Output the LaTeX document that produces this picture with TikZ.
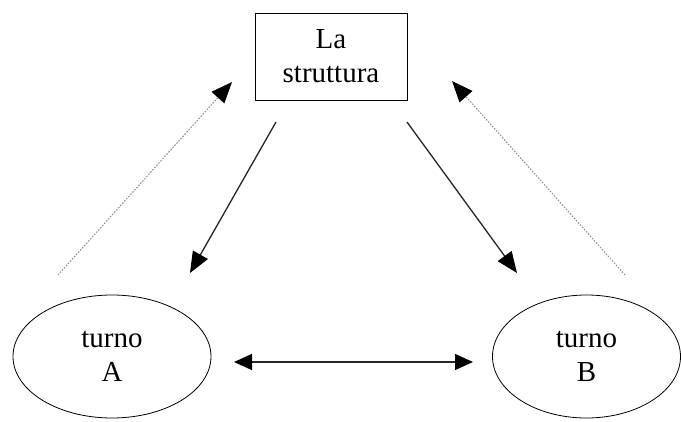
\documentclass[tikz,border=0pt]{standalone}
\usepackage{fontspec}
\setmainfont{Liberation Serif}
\usetikzlibrary{shapes.geometric,arrows.meta}

\begin{document}
\begin{tikzpicture}[x=1pt, y=-1pt, font=\fontsize{29}{34}\selectfont]
			\tikzstyle{turno}=[ellipse,draw,thick,align=center,inner sep=0pt]
			\tikzstyle{freccia}=[draw=black!85,line width=1.3pt,-{Triangle[length=21pt,width=17pt,color=black]}]
			\tikzstyle{ritorno}=[draw=black!45,line width=1pt,dash pattern=on 1.6pt off 1.4pt,-{Triangle[length=21pt,width=17pt,color=black]}]
			\useasboundingbox (0,0) rectangle (681,421);
			\node[draw,thick,align=center,minimum width=152pt,minimum height=87pt](struttura) at (331,56.5){La\\struttura};
			\node[turno,minimum width=198pt,minimum height=123pt](turno-a) at (112,356.5){turno\\A};
			\node[turno,minimum width=188pt,minimum height=123pt](turno-b) at (586.5,356.5){turno\\B};
			
			% capi liberi delle frecce
			\coordinate (s-a) at (276,122);
			\coordinate (e-a) at (190,273);
			\coordinate (s-b) at (407,122);
			\coordinate (e-b) at (517,273);
			\coordinate (r-a) at (58,275);
			\coordinate (t-a) at (232,82);
			\coordinate (r-b) at (625,275);
			\coordinate (t-b) at (452,81);
			\coordinate (h-a) at (234,362);
			\coordinate (h-b) at (473,362);
			
			\path[freccia] (s-a) -- (e-a);
			\path[freccia] (s-b) -- (e-b);
			\path[ritorno] (r-a) -- (t-a);
			\path[ritorno] (r-b) -- (t-b);
			\path[draw=black!85,line width=1.3pt,{Triangle[length=18pt,width=16pt,color=black]}-{Triangle[length=18pt,width=16pt,color=black]}] (h-a) -- (h-b);
\end{tikzpicture}
\end{document}
